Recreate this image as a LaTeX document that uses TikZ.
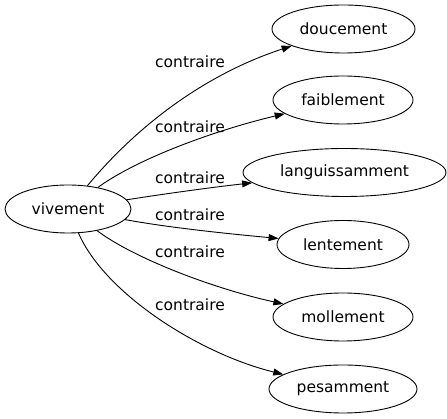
\documentclass[tikz,border=0pt]{standalone}
\usepackage{fontspec}
\setmainfont{DejaVu Sans}
\usetikzlibrary{shapes.geometric,arrows.meta}
\tikzset{
  word/.style={draw,ellipse,line width=0.9pt,minimum height=48pt,inner xsep=0pt,font=\fontsize{15.5}{18}\selectfont},
  edge/.style={line width=0.9pt,-{Triangle[length=10pt,width=7pt]}},
  lbl/.style={font=\fontsize{15.5}{18}\selectfont,inner sep=0pt}
}
\begin{document}
\begin{tikzpicture}[x=1pt,y=1pt]
   \useasboundingbox (0,0) rectangle (447,419);

   %draw words
   \node[word,minimum width=126pt] (viv) at (68,210) {vivement};
   \node[word,minimum width=143pt] (douc) at (343.5,390) {doucement};
   \node[word,minimum width=140pt] (faib) at (343,319) {faiblement};
   \node[word,minimum width=203pt] (lang) at (344.5,246.5) {languissamment};
   \node[word,minimum width=132pt] (lent) at (343,174.5) {lentement};
   \node[word,minimum width=140pt] (moll) at (343,102) {mollement};
   \node[word,minimum width=148pt] (pesa) at (343,30) {pesamment};

   %draw relations
   \draw[edge] (viv) .. controls (143,300) and (212,347) .. (douc) node[lbl] at (190,357) {contraire};
   \draw[edge] (viv) .. controls (140,262) and (220,290) .. (faib) node[lbl] at (190,292) {contraire};
   \draw[edge] (viv) .. controls (170,226) and (215,232) .. (lang) node[lbl] at (190,241) {contraire};
   \draw[edge] (viv) .. controls (165,192) and (220,186) .. (lent) node[lbl] at (190,204) {contraire};
   \draw[edge] (viv) .. controls (135,160) and (215,130) .. (moll) node[lbl] at (190,167) {contraire};
   \draw[edge] (viv) .. controls (105,125) and (200,65) .. (pesa) node[lbl] at (190,114) {contraire};

\end{tikzpicture}
\end{document}
